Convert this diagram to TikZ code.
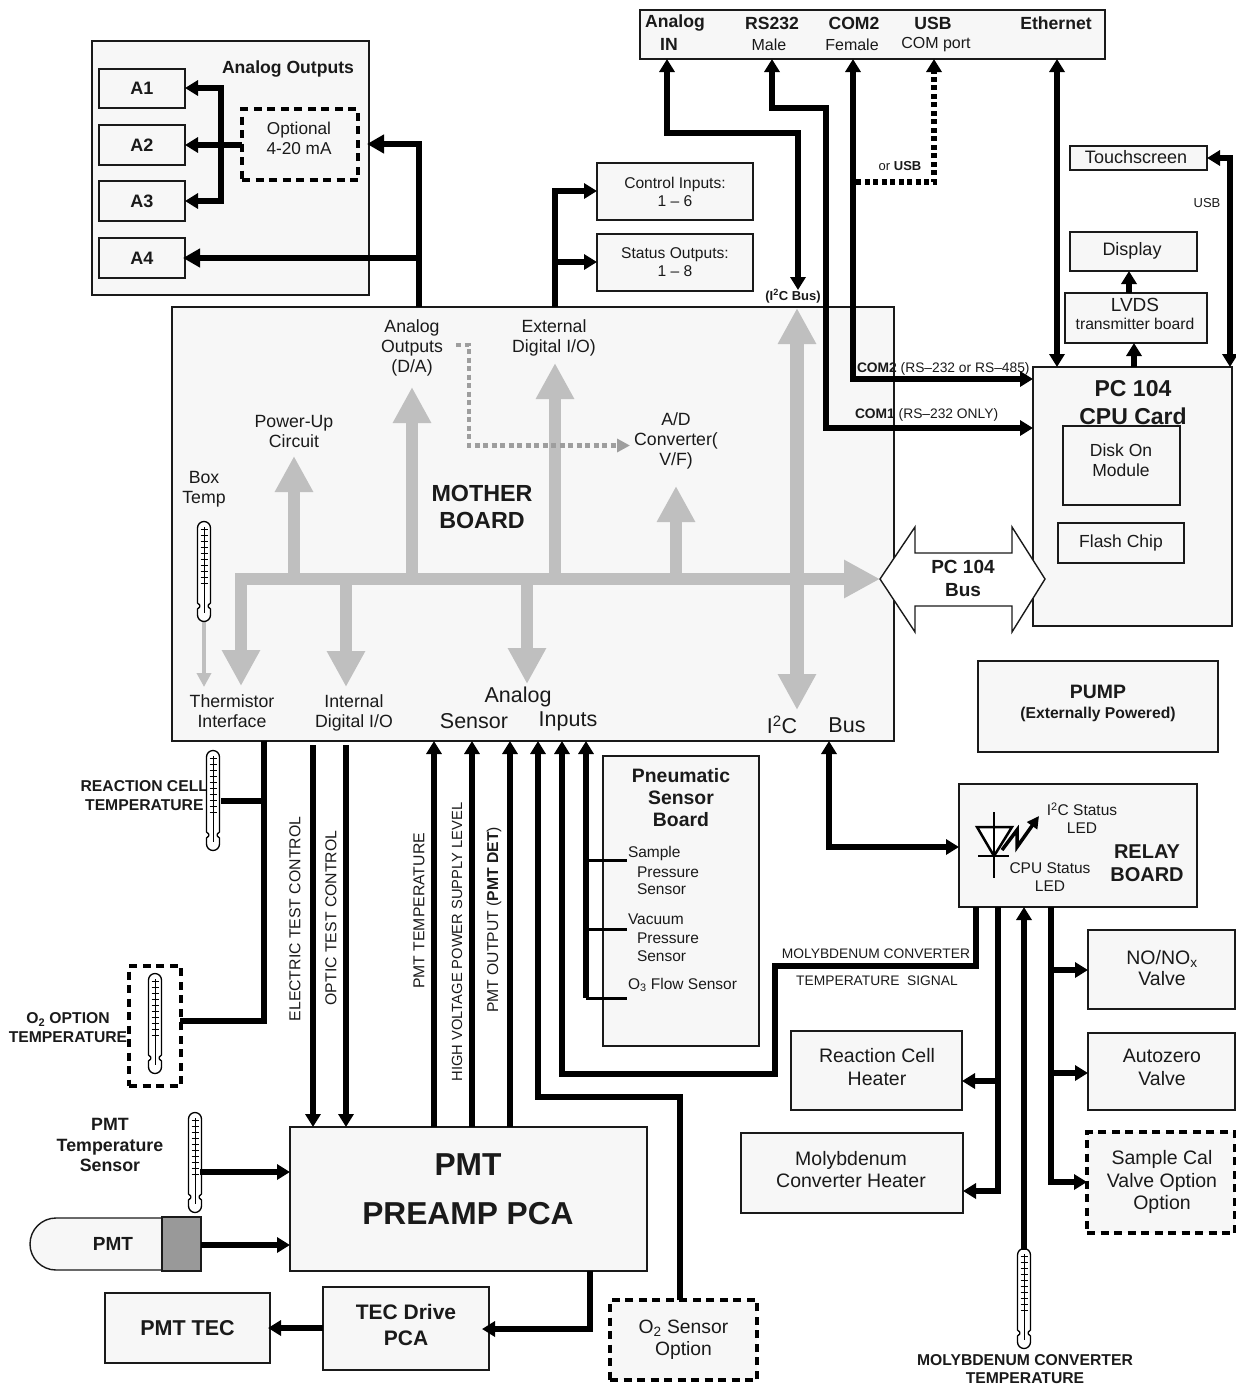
\documentclass[tikz,border=0pt]{standalone}
\usepackage{fontspec}
\setmainfont{Liberation Sans}
\usetikzlibrary{arrows.meta}
\definecolor{panel}{HTML}{F7F7F7}
\definecolor{busgrey}{HTML}{BFBFBF}
\definecolor{inkline}{HTML}{1A1A1A}
\newcommand\fs[1]{\fontsize{#1}{#1}\selectfont}
\newcount\lblcount
\tikzset{
  boxs/.style={draw=inkline,fill=panel,line width=1.4pt,inner sep=0pt,outer sep=0pt,align=center,text=inkline},
  dashbox/.style={dash pattern=on 8pt off 5.5pt,line width=3.5pt,draw=black},
  wire/.style={line width=5.2pt,draw=black,line join=miter},
  tip/.style={-{Triangle[width=15pt,length=13pt]}},
  bigtip/.style={-{Triangle[width=18pt,length=17pt]}},
  ttip/.style={{Triangle[width=15pt,length=13pt]}-},
  dtip/.style={{Triangle[width=15pt,length=13pt]}-{Triangle[width=15pt,length=13pt]}},
  bus/.style={line width=12pt,draw=busgrey,-{Triangle[width=36pt,length=36pt]}},
  dbus/.style={line width=14pt,draw=busgrey,{Triangle[width=36pt,length=36pt]}-{Triangle[width=36pt,length=36pt]}},
  lab/.style={inner sep=0pt,outer sep=0pt,align=center,text=inkline},
}
\newcommand\bx[7][]{%
  \pgfmathsetmacro\cxv{(#3+#5)/2}\pgfmathsetmacro\cyv{(#4+#6)/2}%
  \pgfmathsetmacro\wv{#5-#3}\pgfmathsetmacro\hv{#6-#4}%
  \node[boxs,minimum width=\wv pt,minimum height=\hv pt,#1] (#2) at (\cxv,\cyv) {#7};}
\newcommand\lbl[4][]{%
  \global\advance\lblcount by 1
  \node[lab,font=\fs{#2},#1] (lbl\the\lblcount) at (#3) {#4};}
\newcommand\lines[2]{\fontsize{#1}{#2}\selectfont}
\newcommand\thermo[3][black]{%
  \begin{scope}[shift={(#2,#3)}]
  \draw[line width=1.3pt,fill=white,line join=round] (-6.5,7) arc[start angle=180,end angle=360,radius=6.5] -- (6.5,80)
     -- (6.5,82) -- (4.3,84) -- (4.3,86) -- (6.5,88) -- (6.5,94) arc[start angle=0,end angle=180,radius=6.5]
     -- (-6.5,88) -- (-4.3,86) -- (-4.3,84) -- (-6.5,82) -- cycle;
  \draw[line width=.8pt,#1] (0,6) -- (0,92);
  \foreach \ty in {8,14,...,62}{\draw[line width=.7pt] (-3.5,\ty) -- (3.5,\ty);}
  \end{scope}}
\begin{document}
\begin{tikzpicture}[x=1pt,y=-1pt]
\useasboundingbox (0,0) rectangle (1236,1387);
% --- background boards
\bx{aout}{92}{41}{369}{295}{}
\bx{mb}{172}{307}{894}{741}{}
\bx{top}{640}{10}{1105}{59}{}
% --- grey buses inside mother board
\draw[bus] (241,579) -- (241,686);
\draw[bus] (235,579) -- (880,579);
\draw[bus] (294,579) -- (294,456);
\draw[bus] (346,579) -- (346,687);
\draw[bus] (412,579) -- (412,387);
\draw[bus] (527,579) -- (527,684);
\draw[bus] (555,579) -- (555,363);
\draw[bus] (676,579) -- (676,486);
\draw[dbus] (797,308) -- (797,710);
\draw[line width=4.5pt,draw=busgrey,-{Triangle[width=14pt,length=14pt]}] (204,610) -- (204,687);
\draw[line width=4.5pt,draw=black!38,dash pattern=on 5pt off 3.5pt,-{Triangle[width=13pt,length=13pt]}] (456,345) -- (469,345) -- (469,445.5) -- (630,445.5);
% --- analog output panel
\bx[font=\fs{18}\bfseries]{aa}{99}{69}{185}{108}{A1}
\bx[font=\fs{18}\bfseries]{ab}{99}{125}{185}{165}{A2}
\bx[font=\fs{18}\bfseries]{ac}{99}{181}{185}{221}{A3}
\bx[font=\fs{18}\bfseries]{ad}{99}{238}{185}{278}{A4}
\bx[dashbox]{opt}{242}{109}{358}{180}{}
\lbl[font=\lines{17.2}{20}]{17}{299,138}{Optional\\4-20 mA}
\draw[wire,tip] (221,88) -- (aa.east |- 0,88);
\draw[wire,tip] (opt.west |- 0,145) -- (ab.east |- 0,145);
\draw[wire,tip] (221,201) -- (ac.east |- 0,201);
\draw[wire] (221,85.4) -- (221,203.6);
\draw[wire,bigtip] (419,0 |- mb.north) -- (419,144) -- (367,144);
\draw[wire,bigtip] (419,258) -- (183,258);
% --- digital I/O boxes
\bx[font=\lines{15.6}{18}]{ctl}{597}{163}{753}{220}{Control Inputs:\\1 – 6}
\bx[font=\lines{15.6}{18}]{sta}{597}{234}{753}{291}{Status Outputs:\\1 – 8}
\draw[wire,tip] (555,0 |- mb.north) -- (555,191) -- (ctl.west |- 0,191);
\draw[wire,tip] (555,262) -- (sta.west |- 0,262);
% --- CPU side
\bx[font=\fs{18}]{touch}{1070}{146}{1207}{170}{}
\lbl{18}{1136,157}{Touchscreen}
\bx[font=\lines{18}{20}]{disp}{1070}{232}{1197}{271}{}
\lbl{18}{1132,251}{Display}
\bx{lvds}{1065}{293}{1207}{343}{}
\lbl{19}{1135,305}{LVDS}
\lbl{15.7}{1135,324}{transmitter board}
\bx{cpu}{1033}{367}{1232}{626}{}
\lbl[font=\lines{23}{28}\bfseries]{23}{1133,403}{PC 104\\CPU Card}
\bx{disk}{1063}{426}{1180}{505}{}
\lbl[font=\lines{17.5}{20}]{17}{1121,460}{Disk On\\Module}
\bx[font=\fs{17.5}]{flash}{1058}{523}{1184}{563}{Flash Chip}
\draw[wire,tip] (1129,0 |- lvds.north) -- (1129,0 |- disp.south);
\draw[wire,tip] (1134,0 |- cpu.north) -- (1134,0 |- lvds.south);
\draw[wire,dtip] (1057,0 |- top.south) -- (1057,0 |- cpu.north);
\draw[wire,dtip] (touch.east |- 0,158) -- (1230,158) -- (1230,0 |- cpu.north);
\draw[wire,dtip] (667,0 |- top.south) -- (667,133) -- (798,133) -- (798,290);
\draw[wire,dtip] (772,0 |- top.south) -- (772,108) -- (826,108) -- (826,428) -- (cpu.west |- 0,428);
\draw[wire,dtip] (853,0 |- top.south) -- (853,379) -- (cpu.west |- 0,379);
\draw[wire,dash pattern=on 5pt off 3.5pt] (856,182) -- (934,182) -- (934,72);
\draw[wire,ttip] (934,0 |- top.south) -- (934,74);
\lbl{13}{900,166}{or \textbf{USB}}
\lbl{13}{1207,203}{USB}
\lbl[font=\fs{13}\bfseries]{13}{793,296}{(I\textsuperscript{2}C Bus)}
\lbl[anchor=west]{13.8}{857,369}{\textbf{COM2} (RS–232 or RS–485)}
\lbl[anchor=west]{13.8}{855,415}{\textbf{COM1} (RS–232 ONLY)}
% --- PC104 bus
\draw[draw=inkline,line width=1.4pt,fill=white] (880,579) -- (915,527) -- (915,553) -- (1012,553) -- (1012,527) -- (1045,579) -- (1012,632) -- (1012,606) -- (915,606) -- (915,632) -- cycle;
\lbl[font=\lines{19}{23}\bfseries]{19}{963,578}{PC 104\\Bus}
% --- top panel text
\lbl[font=\fs{17.6}\bfseries]{17}{675,23}{Analog}
\lbl[font=\fs{17.6}\bfseries]{17}{669,44}{IN}
\lbl[font=\fs{17.6}\bfseries]{17}{772,23}{RS232}
\lbl{16}{769,45}{Male}
\lbl[font=\fs{17.6}\bfseries]{17}{854,23}{COM2}
\lbl{16}{852,45}{Female}
\lbl[font=\fs{17.6}\bfseries]{17}{933,23}{USB}
\lbl{16}{936,45}{COM port}
\lbl[font=\fs{17.6}\bfseries]{17}{1056,23}{Ethernet}
\lbl[font=\fs{17.6}\bfseries]{17}{288,69}{Analog Outputs}
% --- mother board text
\lbl[font=\lines{23.3}{27}\bfseries]{23}{482,507}{MOTHER\\BOARD}
\lbl[font=\lines{17.7}{20}]{17}{204,489}{Box\\Temp}
\lbl[font=\lines{17.7}{20}]{17}{294,431}{Power-Up\\Circuit}
\lbl[font=\lines{17.7}{20}]{17}{412,348}{Analog\\Outputs\\(D/A)}
\lbl[font=\lines{17.7}{20}]{17}{554,338}{External\\Digital I/O)}
\lbl[font=\lines{17.7}{20}]{17}{676,441}{A/D\\Converter(\\V/F)}
\lbl[font=\lines{17.7}{20}]{17}{232,711}{Thermistor\\Interface}
\lbl[font=\lines{17.7}{20}]{17}{354,713}{Internal\\Digital I/O}
\lbl{21.5}{518,697}{Analog}
\lbl{21.5}{474,721}{Sensor}
\lbl{21.5}{568,721}{Inputs}
\lbl{21.5}{782,725}{I\textsuperscript{2}C}
\lbl{21.5}{847,725}{Bus}
\thermo{204}{521}
% --- left side below the mother board
\draw[wire] (264,0 |- mb.south) -- (264,1021) -- (180,1021);
\draw[wire] (264,801) -- (221,801);
\lbl[font=\lines{15.7}{19}\bfseries,align=center,anchor=east]{14}{208,796}{REACTION CELL\\TEMPERATURE}
\thermo{213}{750}
\bx[dashbox,fill=none]{otwo}{129}{966}{181}{1086}{}
\thermo{155}{973}
\lbl[font=\lines{15.7}{19}\bfseries]{14}{68,1028}{O\textsubscript{2} OPTION\\TEMPERATURE}
% --- preamp
\bx{pre}{290}{1127}{647}{1271}{}
\lbl[font=\fs{31.7}\bfseries]{32}{468,1165}{PMT}
\lbl[font=\fs{31.7}\bfseries]{32}{468,1214}{PREAMP PCA}
\draw[wire,tip] (313,745) -- (313,0 |- pre.north);
\draw[wire,tip] (346,745) -- (346,0 |- pre.north);
\lbl[rotate=90]{15.8}{295,919}{ELECTRIC TEST CONTROL}
\lbl[rotate=90]{15.8}{331,918}{OPTIC TEST CONTROL}
\draw[wire,tip] (434,0 |- pre.north) -- (434,0 |- mb.south);
\draw[wire,tip] (472,0 |- pre.north) -- (472,0 |- mb.south);
\draw[wire,tip] (510,0 |- pre.north) -- (510,0 |- mb.south);
\lbl[rotate=90]{15.8}{419,911}{PMT TEMPERATURE}
\lbl[rotate=90]{14.7}{457,942}{HIGH VOLTAGE POWER SUPPLY LEVEL}
\lbl[rotate=90]{15.7}{494,920}{PMT OUTPUT (\textbf{PMT DET})}
% --- O2 sensor, TEC
\bx[dashbox,font=\lines{19.3}{22}]{osens}{610}{1300}{757}{1380}{O\textsubscript{2} Sensor\\Option}
\draw[wire,tip] (680,0 |- osens.north) -- (680,1097) -- (538,1097) -- (538,0 |- mb.south);
\bx{tecd}{323}{1287}{489}{1370}{}
\lbl[font=\lines{21}{26}\bfseries]{21}{406,1325}{TEC Drive\\PCA}
\bx[font=\fs{21.5}\bfseries]{tec}{105}{1293}{270}{1363}{PMT TEC}
\draw[wire,tip] (590,0 |- pre.south) -- (590,1329) -- (482,1329);
\draw[wire,tip] (tecd.west |- 0,1328) -- (268,1328);
% --- PMT tube and its sensor
\draw[draw=inkline,line width=1.4pt,fill=panel] (162,1218) -- (56,1218) arc[start angle=270,end angle=90,radius=26] -- (162,1270) -- cycle;
\lbl[font=\fs{19}\bfseries]{18}{113,1244}{PMT}
\bx[fill=black!40]{head}{162}{1217}{201}{1271}{}
\thermo{195}{1112}
\draw[wire,tip] (200,1172) -- (pre.west |- 0,1172);
\draw[wire,tip] (head.east |- 0,1245) -- (pre.west |- 0,1245);
\lbl[font=\lines{17.8}{20.5}\bfseries]{16}{110,1145}{PMT\\Temperature\\Sensor}
% --- pneumatic board
\bx{pneu}{603}{756}{759}{1046}{}
\lbl[font=\lines{19.4}{22}\bfseries]{18}{681,798}{Pneumatic\\Sensor\\Board}
\draw[wire,tip] (586,998) -- (586,0 |- mb.south);
\draw[line width=3pt] (586,860) -- (627,860);
\draw[line width=3pt] (586,929) -- (627,929);
\draw[line width=3pt] (586,998) -- (627,998);
\lbl[anchor=west]{15.5}{628,853}{Sample}
\lbl[anchor=west]{15.5}{637,872}{Pressure}
\lbl[anchor=west]{15.5}{637,889}{Sensor}
\lbl[anchor=west]{15.5}{628,919}{Vacuum}
\lbl[anchor=west]{15.5}{637,938}{Pressure}
\lbl[anchor=west]{15.5}{637,956}{Sensor}
\lbl[anchor=west]{15.5}{628,985}{O\textsubscript{3} Flow Sensor}
% --- relay board
\bx{relay}{959}{784}{1197}{907}{}
\lbl[font=\lines{20}{23}\bfseries]{20}{1147,863}{RELAY\\BOARD}
\lbl[font=\lines{15.5}{18}]{15}{1082,818}{I\textsuperscript{2}C Status\\LED}
\lbl[font=\lines{15.5}{18}]{15}{1050,877}{CPU Status\\LED}
\draw[line width=2.5pt,fill=white] (977,827) -- (1012,827) -- (994,856) -- cycle;
\draw[line width=2.5pt] (978,856) -- (1009,856);
\draw[line width=2.5pt] (994,812) -- (994,878);
\draw[line width=3.5pt,-{Triangle[width=12pt,length=12pt]}] (1002,850) -- (1017,830) -- (1017,847) -- (1039,816);
\draw[wire,dtip] (829,0 |- mb.south) -- (829,847) -- (relay.west |- 0,847);
\draw[wire,tip] (976,0 |- relay.south) -- (976,966) -- (775,966) -- (775,1074) -- (562,1074) -- (562,0 |- mb.south);
\lbl{13.8}{876,954}{MOLYBDENUM CONVERTER}
\lbl{13.8}{877,981}{TEMPERATURE\ \ SIGNAL}
\bx[font=\lines{19.5}{21.5}]{nox}{1088}{930}{1235}{1009}{}
\lbl[font=\lines{19.5}{21.5}]{19}{1162,968}{NO/NO\textsubscript{x}\\Valve}
\bx{azv}{1088}{1033}{1235}{1110}{}
\lbl[font=\lines{19.5}{23}]{19}{1162,1067}{Autozero\\Valve}
\bx[dashbox]{scv}{1087}{1132}{1235}{1233}{}
\lbl[font=\lines{19.5}{22.5}]{19}{1162,1182}{Sample Cal\\Valve Option\\Option}
\bx{rch}{791}{1031}{962}{1110}{}
\lbl[font=\lines{19.5}{23}]{19}{877,1067}{Reaction Cell\\Heater}
\bx{mch}{741}{1133}{963}{1213}{}
\lbl[font=\lines{19.5}{22}]{19}{851,1170}{Molybdenum\\Converter Heater}
\bx{pump}{978}{661}{1218}{752}{}
\lbl[font=\fs{19.4}\bfseries]{18}{1098,692}{PUMP}
\lbl[font=\fs{15.7}\bfseries]{14}{1098,714}{(Externally Powered)}
\draw[wire,tip] (998,0 |- relay.south) -- (998,1191) -- (mch.east |- 0,1191);
\draw[wire,tip] (998,1081) -- (rch.east |- 0,1081);
\draw[wire,tip] (1051,0 |- relay.south) -- (1051,1182) -- (scv.west |- 0,1182);
\draw[wire,tip] (1051,970) -- (nox.west |- 0,970);
\draw[wire,tip] (1051,1073) -- (azv.west |- 0,1073);
\thermo{1024}{1248}
\draw[wire,tip] (1024,1250) -- (1024,0 |- relay.south);
\lbl[font=\lines{15.7}{18}\bfseries]{14}{1025,1369}{MOLYBDENUM CONVERTER\\TEMPERATURE}
\end{tikzpicture}
\end{document}
